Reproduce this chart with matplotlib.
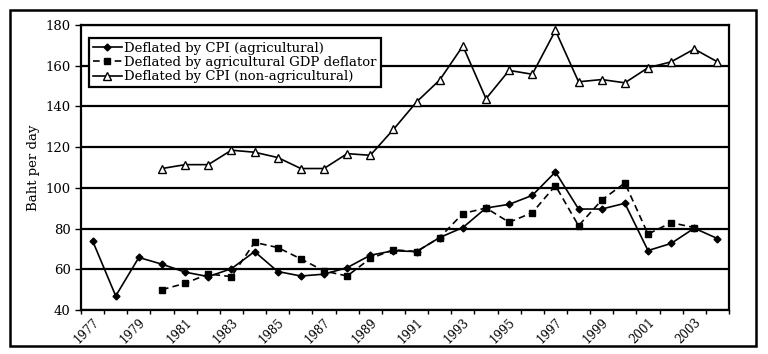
import matplotlib.pyplot as plt
import numpy as np
from matplotlib.patches import Rectangle

plt.rcParams['font.family'] = ['DejaVu Serif']

years = np.arange(1977, 2005)
cpi_agri = [74.0, 46.9, 65.8, 62.5, 58.6, 56.4, 60.3, 68.7, 58.9, 56.7,
            57.6, 60.8, 66.9, 69.1, 68.7, 75.6, 80.5, 90.1, 91.9, 96.3,
            107.8, 89.6, 89.6, 92.4, 69.2, 72.7, 80.2, 75.1]
gdp_defl = [np.nan, np.nan, np.nan, 50.0, 53.1, 57.7, 56.4, 73.2, 70.7, 65.1,
            59.2, 56.7, 65.3, 69.6, 68.7, 75.6, 87.4, 90.1, 83.1, 87.8,
            101.1, 81.4, 94.0, 102.4, 77.3, 82.9, 80.5, np.nan]
cpi_nonagri = [np.nan, np.nan, np.nan, 109.5, 111.4, 111.4, 118.5, 117.5, 114.9, 109.5,
               109.5, 116.8, 116.0, 128.7, 142.2, 153.0, 169.7, 143.8, 157.7, 155.8,
               177.3, 152.1, 153.2, 151.6, 159.0, 161.9, 168.2, 161.9]
label_years = years[::2]

fig = plt.figure(figsize=(7.68, 3.54), dpi=100)
ax = fig.add_axes([81/768, 1 - 310/354, 648/768, 285/354])

ax.plot(years, cpi_agri, color='black', lw=1.2, marker='D', ms=3.5,
        label='Deflated by CPI (agricultural)')
ax.plot(years, gdp_defl, color='black', lw=1.2, ls=(0, (4, 2.5)), marker='s', ms=5,
        label='Deflated by agricultural GDP deflator')
ax.plot(years, cpi_nonagri, color='black', lw=1.2, marker='^', ms=5.5,
        mfc='white', mew=1.0, label='Deflated by CPI (non-agricultural)')

ax.set_xlim(1976.5, 2004.5)
ax.set_ylim(40, 180)
ax.set_yticks(range(40, 181, 20))
ax.yaxis.grid(True, color='black', lw=1.6)
ax.set_axisbelow(True)
ax.set_xticks(label_years)
ax.set_xticklabels([str(y) for y in label_years], rotation=45, ha='right',
                   rotation_mode='anchor', fontsize=8.5)
ax.set_xticks(np.arange(1976.5, 2005, 1), minor=True)
ax.tick_params(axis='x', which='major', length=0, pad=4)
ax.tick_params(axis='x', which='minor', length=3, direction='out', width=1)
ax.tick_params(axis='y', length=4, width=1, labelsize=9.5)
ax.set_ylabel('Baht per day', fontsize=9.5, labelpad=4)
for s in ax.spines.values():
    s.set_linewidth(1.6)

leg = ax.legend(loc='upper left', bbox_to_anchor=(0.012, 0.955), fontsize=9.5,
                fancybox=False, edgecolor='black', framealpha=1,
                handlelength=2.2, handletextpad=0.2, borderpad=0.3,
                labelspacing=0.1, borderaxespad=0)
leg.get_frame().set_linewidth(1.6)

fig.patches.append(Rectangle((10/768, 1 - 346/354), 746/768, 336/354,
                             transform=fig.transFigure, fill=False,
                             edgecolor='black', lw=1.8))

fig.savefig('out.png', dpi=100)
